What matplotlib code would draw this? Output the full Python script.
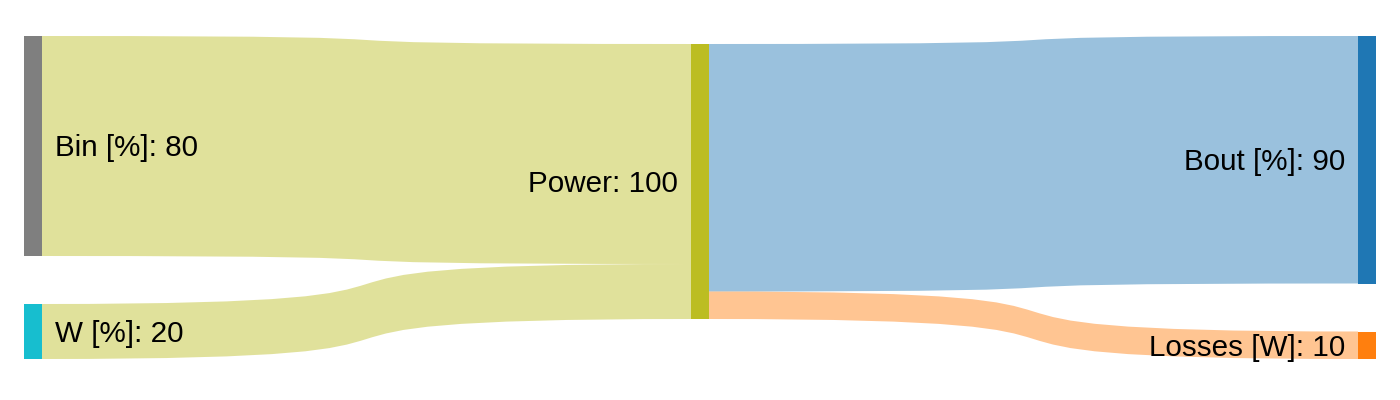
import matplotlib
matplotlib.use("Agg")
import matplotlib.pyplot as plt
from matplotlib.path import Path
from matplotlib.patches import PathPatch, Rectangle
from matplotlib import colors as mcolors

# Sankey data
node_labels = ['Bin [%]', 'W [%]', 'Power', 'Bout [%]', 'Losses [W]']
node_colors = ['#7f7f7f', '#17becf', '#bcbd22', '#1f77b4', '#ff7f0e']
node_column = [0, 0, 1, 2, 2]

link_source = [0, 1, 2, 2]
link_target = [2, 2, 3, 4]
link_value = [80, 20, 90, 10]

# layout (pixels)
W, H = 1400, 400
scale = 2.75          # px per unit
node_w = 18
col_x = [24, 691, 1358]
col_top = [36, 44, 36]
gap = 48
link_alpha = 0.45
curv = 0.8            # control point position along the link

n = len(node_labels)
v_in = [0] * n
v_out = [0] * n
for s, t, v in zip(link_source, link_target, link_value):
    v_out[s] += v
    v_in[t] += v
node_value = [max(a, b) for a, b in zip(v_in, v_out)]

# node positions
node_y = [0] * n
cursor = {}
for i in range(n):
    c = node_column[i]
    y = cursor.get(c, col_top[c])
    node_y[i] = y
    cursor[c] = y + node_value[i] * scale + gap

fig = plt.figure(figsize=(W / 100, H / 100), dpi=100)
ax = fig.add_axes([0, 0, 1, 1])
ax.set_xlim(0, W)
ax.set_ylim(H, 0)
ax.axis('off')

# links
out_off = [0.0] * n
in_off = [0.0] * n
for s, t, v in zip(link_source, link_target, link_value):
    h = v * scale
    x0 = col_x[node_column[s]] + node_w
    x1 = col_x[node_column[t]]
    y0 = node_y[s] + out_off[s]
    y1 = node_y[t] + in_off[t]
    out_off[s] += h
    in_off[t] += h
    xa = x0 + (x1 - x0) * curv
    xb = x0 + (x1 - x0) * (1 - curv)
    verts = [(x0, y0), (xa, y0), (xb, y1), (x1, y1),
             (x1, y1 + h), (xb, y1 + h), (xa, y0 + h), (x0, y0 + h), (x0, y0)]
    codes = [Path.MOVETO, Path.CURVE4, Path.CURVE4, Path.CURVE4,
             Path.LINETO, Path.CURVE4, Path.CURVE4, Path.CURVE4, Path.CLOSEPOLY]
    col = mcolors.to_rgba(node_colors[t], link_alpha)
    ax.add_patch(PathPatch(Path(verts, codes), facecolor=col, edgecolor='none', lw=0))

# nodes and labels
fs = 21.3
for i in range(n):
    c = node_column[i]
    x = col_x[c]
    h = node_value[i] * scale
    ax.add_patch(Rectangle((x, node_y[i]), node_w, h, facecolor=node_colors[i],
                           edgecolor='none', lw=0))
    yc = node_y[i] + h / 2 + 10.5
    label = '%s: %d' % (node_labels[i], node_value[i])
    if c == 0:
        ax.text(x + node_w + 13, yc, label, ha='left', va='baseline',
                fontsize=fs, family='Liberation Sans', color='#000000')
    else:
        ax.text(x - 13, yc, label, ha='right', va='baseline',
                fontsize=fs, family='Liberation Sans', color='#000000')

fig.savefig('out.png', dpi=100, facecolor='white')
